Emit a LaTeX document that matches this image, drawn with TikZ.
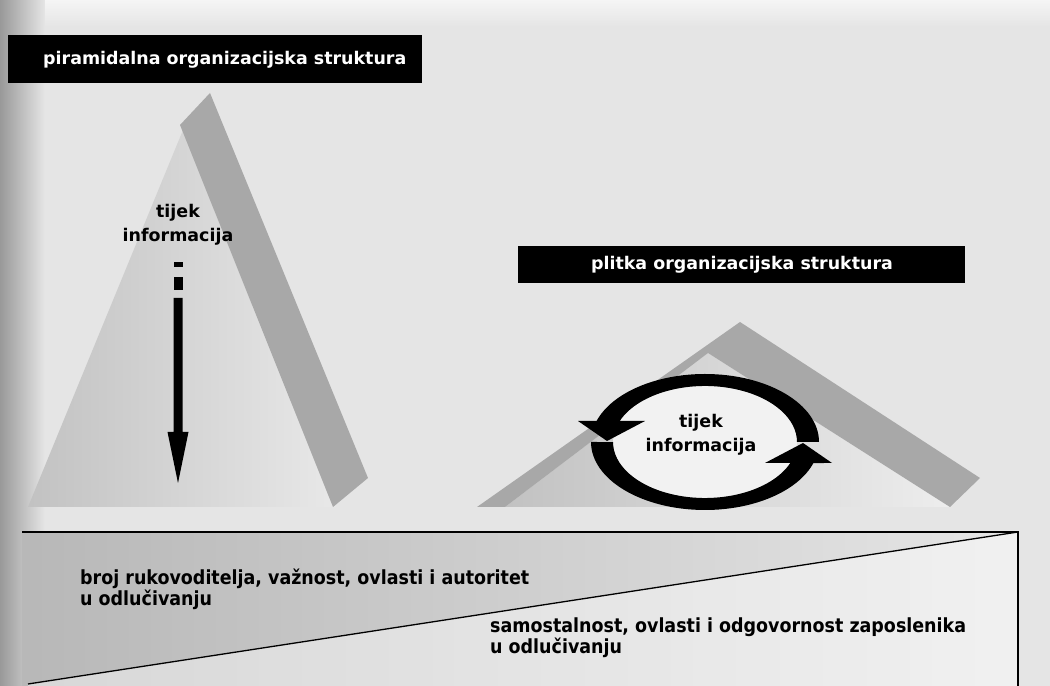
\documentclass[tikz,border=0pt]{standalone}
\usepackage{fontspec}
\newfontfamily\vfont{DejaVu Sans}
\IfFontExistsTF{DejaVu Sans Condensed}{\newfontfamily\cfont{DejaVu Sans Condensed}}{\newfontfamily\cfont{DejaVu Sans}[FakeStretch=0.88]}
\begin{document}
\begin{tikzpicture}[x=1bp,y=1bp,
  titlebox/.style={fill=black,inner sep=0pt,anchor=south west},
  titletext/.style={text=white,font=\vfont\bfseries\fontsize{17.5}{21}\selectfont,inner sep=0pt},
  lbl/.style={font=\vfont\bfseries\fontsize{17.5}{24.5}\selectfont,align=center,text=black,inner sep=0pt},
  btxt/.style={font=\cfont\bfseries\fontsize{19.5}{21}\selectfont,align=left,anchor=west,inner sep=0pt},
  barfill/.style={fill=black!34},
  ringarrow/.style={fill=black}]
\useasboundingbox (0,0) rectangle (1050,686);
% page
\fill[black!10] (0,0) rectangle (1050,686);
\shade[left color=black!40,right color=black!10] (0,0) rectangle (45,686);
\shade[top color=black!4,bottom color=black!10] (45,660) rectangle (1050,686);
% title 1
\node (t1box)[titlebox,minimum width=414bp,minimum height=48bp] at (8,603) {};
\node (t1)[titletext,anchor=west] at (43,626) {piramidalna organizacijska struktura};
% pyramid 1
\shade[left color=black!24,right color=black!9] (28,179) -- (183,556) -- (336,179) -- cycle;
\fill[barfill] (180,561) -- (210,593) -- (368,208) -- (333,179) -- cycle;
% arrow 1
\fill (173.5,419) rectangle (182.5,424);
\fill (173.5,396) rectangle (182.5,409);
\fill (173.5,388) -- (182.5,388) -- (182.5,254) -- (188.5,254) -- (178,203) -- (167.5,254) -- (173.5,254) -- cycle;
\node (l1)[lbl] at (178,461) {tijek\\informacija};
% title 2
\node (t2box)[titlebox,minimum width=447bp,minimum height=37bp] at (518,403) {};
\node (t2)[titletext] at (742,421) {plitka organizacijska struktura};
% pyramid 2
\shade[left color=black!24,right color=black!7] (505,179) -- (708,333) -- (950,179) -- cycle;
\fill[barfill] (477,179) -- (740,364) -- (980,208) -- (950,179) -- (708,333) -- (505,179) -- cycle;
\fill[black!5] (705,244) ellipse [x radius=92, y radius=56];
\fill[ringarrow] (819,244) arc[start angle=0, end angle=162, x radius=114, y radius=68]
  -- (578,265) -- (607,245) -- (645,265) -- (619.7,265)
  arc[start angle=158, end angle=0, x radius=92, y radius=56] -- cycle;
\fill[ringarrow,rotate around={180:(705,244)}] (819,244) arc[start angle=0, end angle=162, x radius=114, y radius=68]
  -- (578,265) -- (607,245) -- (645,265) -- (619.7,265)
  arc[start angle=158, end angle=0, x radius=92, y radius=56] -- cycle;
\node (l2)[lbl] at (701,251.5) {tijek\\informacija};
% bottom box
\shade[left color=black!28,right color=black!10] (22,0) rectangle (1018,154);
\fill[white,opacity=0.45] (28,2) -- (1018,154) -- (1018,0) -- (28,0) -- cycle;
\draw[line width=1.3bp] (22,154) -- (1018,154) -- (1018,0);
\draw[line width=1.3bp] (28,2) -- (1018,154);
\node (b1)[btxt] at (80,96.5) {broj rukovoditelja, važnost, ovlasti i autoritet\\u odlučivanju};
\node (b2)[btxt] at (490,48.5) {samostalnost, ovlasti i odgovornost zaposlenika\\u odlučivanju};
\end{tikzpicture}
\end{document}
